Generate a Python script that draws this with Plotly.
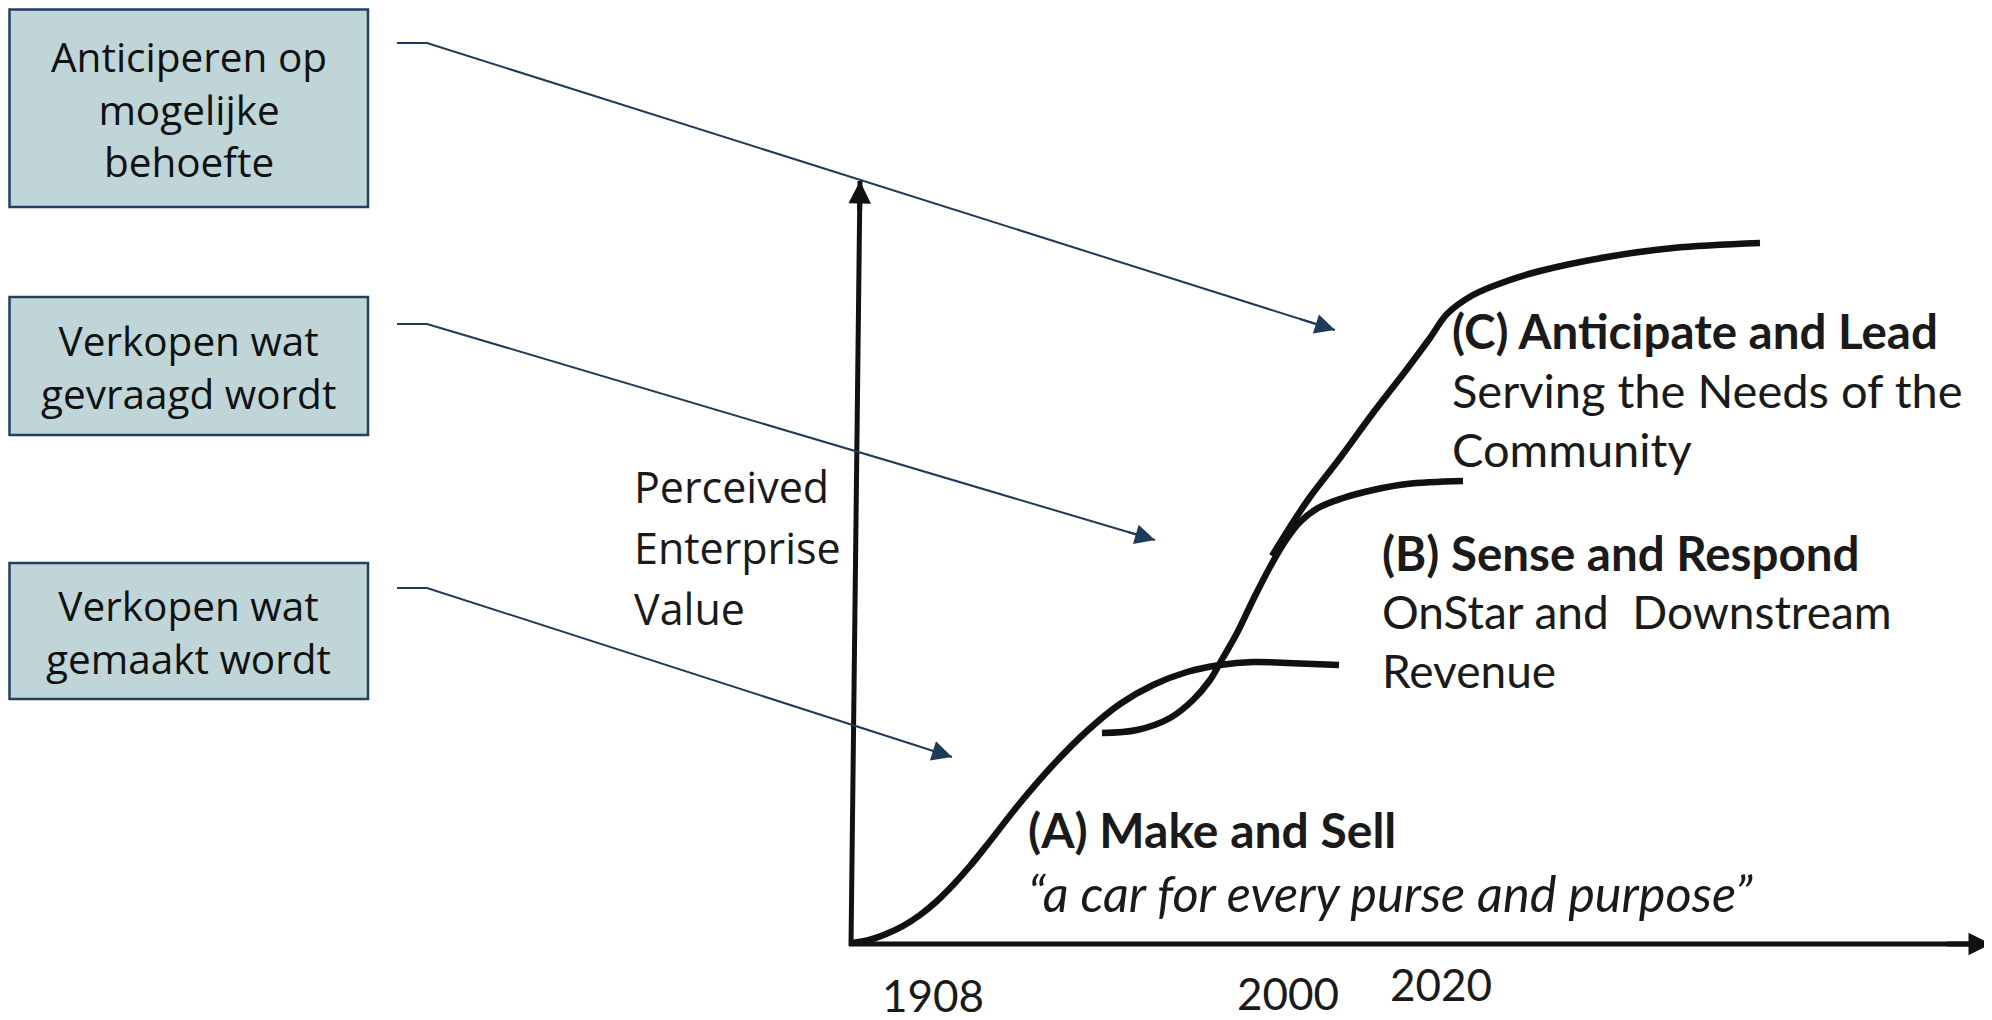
import plotly.graph_objects as go

W, H = 1992, 1020
OFF = 8  # page body margin offset in the browser

# ---------------- data (pixel space) ----------------
# Curve A: Make and Sell
curve_a_x = [852, 869, 886, 903, 920, 937, 953, 970, 987, 1020, 1053, 1087, 1120, 1153, 1187, 1220, 1253, 1287, 1339]
curve_a_y = [943, 940, 934, 926, 915, 901, 885, 866, 845, 803, 765, 731, 704, 685, 672, 665, 662, 663, 665]
# Curve B: Sense and Respond
curve_b_x = [1102, 1137, 1170, 1193, 1210, 1220, 1237, 1253, 1270, 1286, 1300, 1318, 1340, 1373, 1407, 1463]
curve_b_y = [733, 730, 718, 700, 680, 663, 633, 600, 567, 540, 522, 508, 499, 490, 484, 481]
# Curve C: Anticipate and Lead
curve_c_x = [1272, 1290, 1310, 1340, 1373, 1407, 1430, 1447, 1473, 1507, 1540, 1607, 1673, 1760]
curve_c_y = [556, 527, 497, 458, 413, 369, 338, 314, 295, 281, 271, 257, 248, 243]

box_labels = ["Anticiperen op<br>mogelijke<br>behoefte",
              "Verkopen wat<br>gevraagd wordt",
              "Verkopen wat<br>gemaakt wordt"]
tick_labels = ["1908", "2000", "2020"]
y_label_lines = ["Perceived", "Enterprise", "Value"]
stage_c = ["<b>(C) Anticipate and Lead</b>", "Serving the Needs of the", "Community"]
stage_b = ["<b>(B) Sense and Respond</b>", "OnStar and\u00a0 Downstream", "Revenue"]
stage_a = ["<b>(A) Make and Sell</b>", "<i>\u201ca car for every purse and purpose\u201d</i>"]

# ---------------- layout geometry ----------------
BOXES = [(9.5, 9.5, 368, 207), (9.5, 297, 368, 435), (9.5, 563, 368, 699)]
CONN_START_X, CONN_BEND_X = 397, 427
CONN_Y = [43, 324, 588]
CONN_TIP = [(1335, 330), (1155, 540), (952, 757)]
TICK_POS = [(933, 995), (1288, 993), (1441, 984)]
Y_AXIS = [(851, 946), (860, 181)]
X_AXIS = [(849, 944), (1991, 944)]

NAVY = "#1F3B5A"
INK = "#111111"

fig = go.Figure()

# curves
for cx, cy in [(curve_a_x, curve_a_y), (curve_b_x, curve_b_y), (curve_c_x, curve_c_y)]:
    fig.add_trace(go.Scatter(x=cx, y=cy, mode="lines",
                             line=dict(color=INK, width=6.5, shape="spline", smoothing=1.0),
                             hoverinfo="skip"))


def arrow_head(p0, p1, color, width, size):
    """Solid arrow head at p1, pointing along p0 -> p1."""
    tx = p1[0] - 0.04 * (p1[0] - p0[0])
    ty = p1[1] - 0.04 * (p1[1] - p0[1])
    fig.add_annotation(x=p1[0], y=p1[1], ax=tx, ay=ty, xref="x", yref="y",
                       axref="x", ayref="y", text="", showarrow=True,
                       arrowhead=2, arrowsize=size, arrowwidth=width,
                       arrowcolor=color, standoff=0)


# axes drawn as arrows
for (p0, p1) in [Y_AXIS, X_AXIS]:
    fig.add_trace(go.Scatter(x=[p0[0], p1[0]], y=[p0[1], p1[1]], mode="lines",
                             line=dict(color=INK, width=5), hoverinfo="skip"))
    arrow_head(p0, p1, INK, 5, 0.9)

# connectors from boxes
for cy, tip in zip(CONN_Y, CONN_TIP):
    fig.add_trace(go.Scatter(x=[CONN_START_X, CONN_BEND_X, tip[0]], y=[cy, cy, tip[1]],
                             mode="lines", line=dict(color=NAVY, width=2), hoverinfo="skip"))
    arrow_head((CONN_BEND_X, cy), tip, NAVY, 2, 2.0)

# boxes
for (x0, y0, x1, y1), txt in zip(BOXES, box_labels):
    fig.add_shape(type="rect", x0=x0, y0=y0, x1=x1, y1=y1,
                  fillcolor="#BFD5D8", line=dict(color="#23405F", width=2.5), layer="below")
    fig.add_annotation(x=(x0 + x1) / 2, y=(y0 + y1) / 2 + 1, text=txt, showarrow=False,
                       xanchor="center", yanchor="middle", align="center",
                       font=dict(family="Open Sans", size=40.5, color="#111111"))

# y-axis label
for i, t in enumerate(y_label_lines):
    fig.add_annotation(x=632, y=486 + i * 61, text=t, showarrow=False,
                       xanchor="left", yanchor="middle",
                       font=dict(family="Open Sans", size=43, color="#1a1a1a"))

# tick labels
for t, (tx, ty) in zip(tick_labels, TICK_POS):
    fig.add_annotation(x=tx, y=ty, text=t, showarrow=False, xanchor="center", yanchor="middle",
                       height=40, valign="middle",
                       font=dict(family="Lato", size=44, color="#1a1a1a"))

# stage labels
for t, y, s in zip(stage_c, [330, 390, 449], [47.5, 47, 47]):
    fig.add_annotation(x=1450, y=y, text=t, showarrow=False, xanchor="left", yanchor="middle",
                       font=dict(family="Lato", size=s, color="#1a1a1a"))
for t, y, s in zip(stage_b, [552, 611, 670], [47.5, 46, 46]):
    fig.add_annotation(x=1380, y=y, text=t, showarrow=False, xanchor="left", yanchor="middle",
                       font=dict(family="Lato", size=s, color="#1a1a1a"))
for t, y, s in zip(stage_a, [829, 892], [48, 50.5]):
    fig.add_annotation(x=1026, y=y, text=t, showarrow=False, xanchor="left", yanchor="middle",
                       font=dict(family="Lato", size=s, color="#1a1a1a"))

fig.update_layout(
    width=W - OFF, height=H - OFF,
    margin=dict(l=0, r=0, t=0, b=0),
    paper_bgcolor="white", plot_bgcolor="white",
    showlegend=False,
    xaxis=dict(range=[OFF, W], visible=False, fixedrange=True),
    yaxis=dict(range=[H, OFF], visible=False, fixedrange=True),
)

fig.write_html("out.html")
